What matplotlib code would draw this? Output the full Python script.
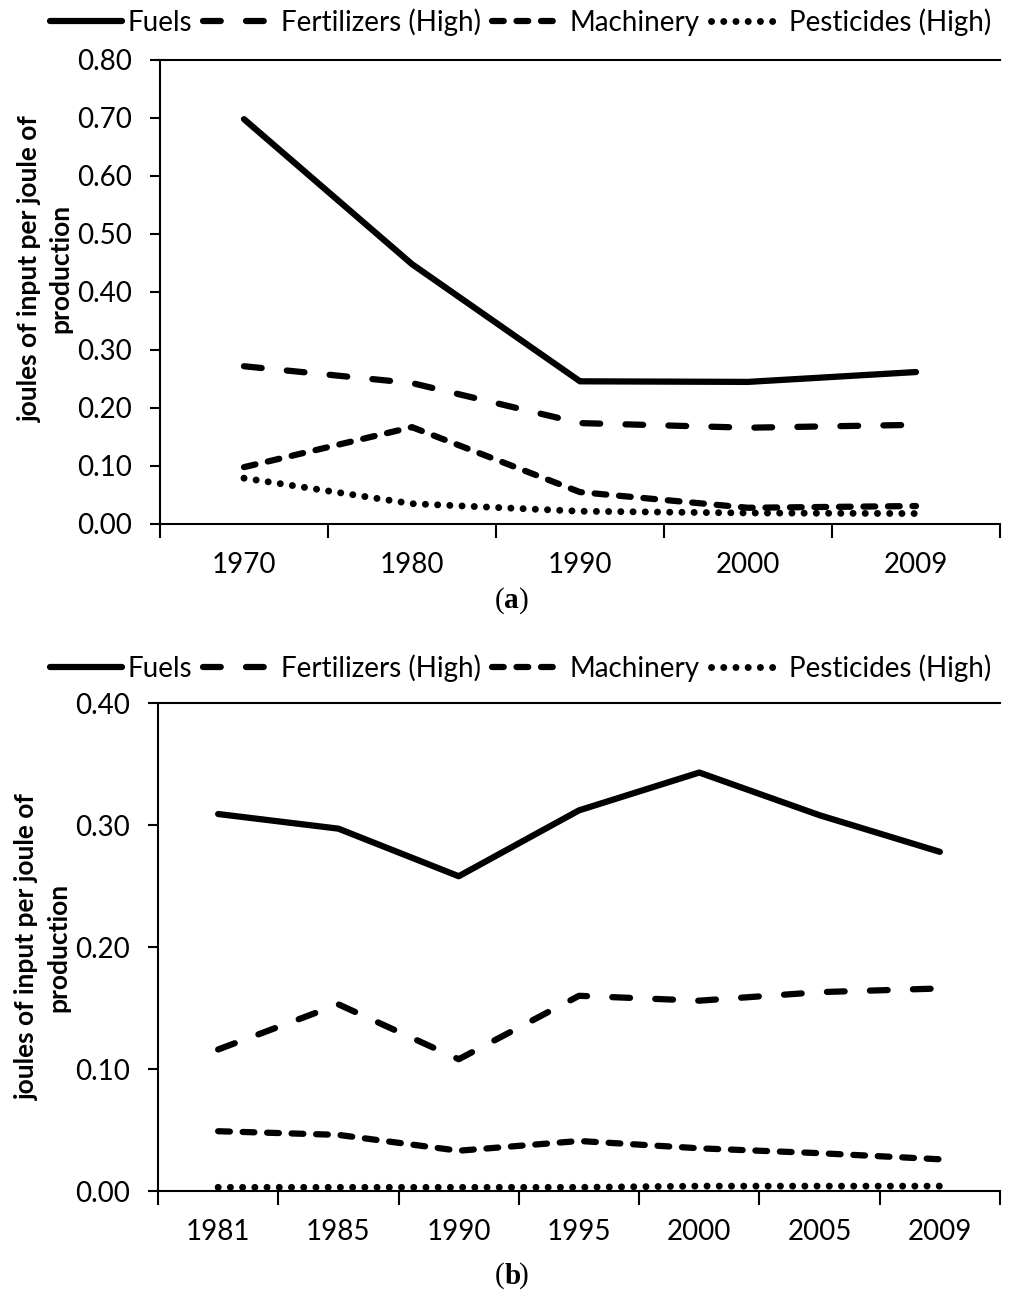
import numpy as np
import matplotlib
matplotlib.use("Agg")
import matplotlib.pyplot as plt

plt.rcParams["font.family"] = ["Lato", "DejaVu Sans"]

# panel (a)
years_a = ["1970", "1980", "1990", "2000", "2009"]
fuels_a = [0.698, 0.448, 0.246, 0.245, 0.262]
fert_a = [0.272, 0.243, 0.174, 0.166, 0.171]
mach_a = [0.098, 0.167, 0.055, 0.028, 0.031]
pest_a = [0.079, 0.035, 0.022, 0.019, 0.018]

# panel (b)
years_b = ["1981", "1985", "1990", "1995", "2000", "2005", "2009"]
fuels_b = [0.309, 0.297, 0.258, 0.312, 0.343, 0.308, 0.278]
fert_b = [0.116, 0.153, 0.108, 0.160, 0.156, 0.163, 0.166]
mach_b = [0.049, 0.046, 0.033, 0.041, 0.035, 0.031, 0.026]
pest_b = [0.003, 0.003, 0.003, 0.003, 0.004, 0.004, 0.004]

labels = ["Fuels", "Fertilizers (High)", "Machinery", "Pesticides (High)"]
styles = [
    dict(ls="-", lw=4.5),
    dict(ls=(0, (2.84, 4.04)), lw=4.5),
    dict(ls=(0, (1.88, 2.04)), lw=4.5),
    dict(ls=(0, (0.01, 1.75)), lw=5.0),
]

W, H = 1024, 1300
fig = plt.figure(figsize=(W / 100, H / 100), dpi=100)


def px_axes(l, t, r, b):
    return fig.add_axes([l / W, 1 - b / H, (r - l) / W, (b - t) / H])


def draw(ax, years, series, ymax, yticks, legend_y, cap, cap_y, label_y):
    x = np.arange(len(years))
    handles = []
    for vals, st, lab in zip(series, styles, labels):
        h, = ax.plot(x, vals, color="black", solid_capstyle="round",
                     dash_capstyle="round", solid_joinstyle="round", label=lab, **st)
        handles.append(h)
    ax.set_xlim(-0.5, len(years) - 0.5)
    ax.set_ylim(0, ymax)
    ax.set_yticks(yticks)
    ax.set_yticklabels([f"{v:.2f}" for v in yticks], fontsize=20)
    ax.set_xticks(x)
    ax.set_xticklabels(years, fontsize=20)
    ax.tick_params(axis="x", which="major", length=0, pad=20)
    ax.set_xticks(np.arange(len(years) + 1) - 0.5, minor=True)
    ax.tick_params(axis="x", which="minor", length=10, width=1.5, direction="out")
    ax.tick_params(axis="y", length=7, width=1.5, direction="out", pad=13)
    for s in ["left", "bottom", "top"]:
        ax.spines[s].set_linewidth(1.5)
    ax.spines["right"].set_visible(False)
    ax.set_ylabel("joules of input per joule of\nproduction", fontsize=19,
                  fontweight="bold", linespacing=1.35)
    ax.yaxis.set_label_coords(-0.104, label_y)
    fig.legend(handles=handles, loc="center", bbox_to_anchor=(0.508, legend_y),
               ncol=4, frameon=False, fontsize=20, handlelength=2.6,
               columnspacing=0.4, handletextpad=0.2)
    fig.text(0.4925, cap_y, "(", fontsize=21, family="Liberation Serif", ha="right", va="center")
    fig.text(0.4925, cap_y, cap, fontsize=21, family="Liberation Serif", fontweight="bold",
             ha="left", va="center")
    fig.text(0.5065, cap_y, ")", fontsize=21, family="Liberation Serif", ha="left", va="center")


ax_a = px_axes(160, 60, 1000, 524)
draw(ax_a, years_a, [fuels_a, fert_a, mach_a, pest_a], 0.80,
     np.arange(0, 0.81, 0.10), 1 - 22 / H, "a", 1 - 601 / H, 0.55)

ax_b = px_axes(158, 703, 1000, 1191)
draw(ax_b, years_b, [fuels_b, fert_b, mach_b, pest_b], 0.40,
     np.arange(0, 0.41, 0.10), 1 - 668 / H, "b", 1 - 1276 / H, 0.5)

fig.savefig("out.png", dpi=100)
